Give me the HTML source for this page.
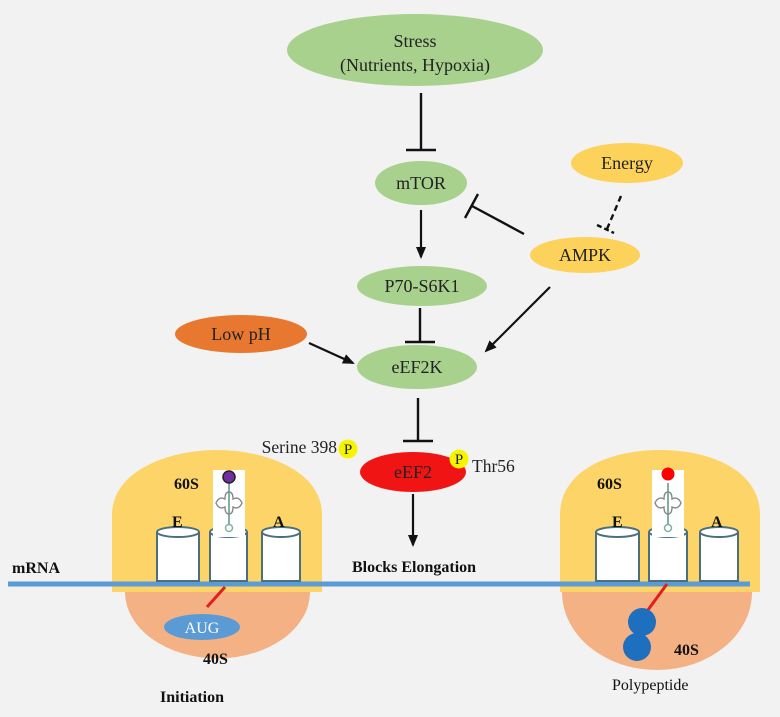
<!DOCTYPE html>
<html><head><meta charset="utf-8"><style>
html,body{margin:0;padding:0;background:#f2f2f2;}
svg{display:block;font-family:"Liberation Serif",serif;}
</style></head><body>
<svg width="780" height="717" viewBox="0 0 780 717" xmlns="http://www.w3.org/2000/svg">
<defs>
<marker id="ah" markerWidth="14" markerHeight="14" refX="10" refY="6" orient="auto" markerUnits="userSpaceOnUse"><path d="M0,1 L12,6 L0,11 Z" fill="#111"/></marker>
</defs>
<rect width="780" height="717" fill="#f2f2f2"/>
<!-- Stress -->
<ellipse cx="415" cy="50" rx="128" ry="36" fill="#a9d18e"/>
<text x="415" y="47" font-size="18" text-anchor="middle" fill="#222">Stress</text>
<text x="415" y="71" font-size="18" text-anchor="middle" fill="#222">(Nutrients, Hypoxia)</text>
<line x1="421" y1="93" x2="421" y2="150" stroke="#111" stroke-width="2.4"/>
<line x1="406" y1="150" x2="436" y2="150" stroke="#111" stroke-width="2.4"/>
<!-- mTOR -->
<ellipse cx="421" cy="183" rx="46" ry="22" fill="#a9d18e"/>
<text x="421" y="189" font-size="18" text-anchor="middle" fill="#222">mTOR</text>
<line x1="421" y1="210" x2="421" y2="257" stroke="#111" stroke-width="2.2" marker-end="url(#ah)"/>
<!-- P70 -->
<ellipse cx="422" cy="286" rx="65" ry="20" fill="#a9d18e"/>
<text x="422" y="292" font-size="18" text-anchor="middle" fill="#222">P70-S6K1</text>
<line x1="420" y1="308" x2="420" y2="342" stroke="#111" stroke-width="2.4"/>
<line x1="405" y1="342" x2="435" y2="342" stroke="#111" stroke-width="2.4"/>
<!-- eEF2K -->
<ellipse cx="417" cy="367" rx="60" ry="22" fill="#a9d18e"/>
<text x="417" y="373" font-size="18" text-anchor="middle" fill="#222">eEF2K</text>
<!-- Low pH -->
<ellipse cx="241" cy="334" rx="66" ry="19" fill="#e8782f"/>
<text x="241" y="340" font-size="18" text-anchor="middle" fill="#222">Low pH</text>
<line x1="309" y1="343" x2="353" y2="363" stroke="#111" stroke-width="2.2" marker-end="url(#ah)"/>
<!-- Energy -->
<ellipse cx="627" cy="163" rx="56" ry="20" fill="#fcd25a"/>
<text x="627" y="169" font-size="18" text-anchor="middle" fill="#222">Energy</text>
<line x1="621" y1="196" x2="607" y2="229" stroke="#111" stroke-width="2.4" stroke-dasharray="6,4"/>
<line x1="597" y1="225" x2="614" y2="233" stroke="#111" stroke-width="2.4" stroke-dasharray="5,3"/>
<!-- AMPK -->
<ellipse cx="585" cy="255" rx="55" ry="18" fill="#fcd25a"/>
<text x="585" y="261" font-size="18" text-anchor="middle" fill="#222">AMPK</text>
<line x1="524" y1="234" x2="472" y2="206" stroke="#111" stroke-width="2.4"/>
<line x1="465" y1="218" x2="478" y2="194" stroke="#111" stroke-width="2.4"/>
<line x1="550" y1="287" x2="486" y2="351" stroke="#111" stroke-width="2.2" marker-end="url(#ah)"/>
<!-- eEF2K -> eEF2 inhibit -->
<line x1="418" y1="398" x2="418" y2="441" stroke="#111" stroke-width="2.4"/>
<line x1="403" y1="441" x2="433" y2="441" stroke="#111" stroke-width="2.4"/>
<!-- eEF2 -->
<ellipse cx="413" cy="472" rx="53" ry="20" fill="#f01414"/>
<text x="413" y="478" font-size="18" text-anchor="middle" fill="#222">eEF2</text>
<circle cx="348" cy="449" r="9.5" fill="#f5f500"/>
<text x="348" y="454" font-size="15" text-anchor="middle" fill="#222">P</text>
<circle cx="459" cy="459" r="9.5" fill="#f5f500"/>
<text x="459" y="464" font-size="15" text-anchor="middle" fill="#222">P</text>
<text x="337" y="453" font-size="17.5" text-anchor="end" fill="#222">Serine 398</text>
<text x="472" y="472" font-size="17.5" fill="#222">Thr56</text>
<line x1="413" y1="494" x2="413" y2="545" stroke="#111" stroke-width="2.2" marker-end="url(#ah)"/>
<text x="352" y="572" font-size="16" font-weight="bold" fill="#111">Blocks Elongation</text>
<!-- Left ribosome -->
<path d="M112,592 V515 C112,470 170,450 217,450 C264,450 322,470 322,515 V592 Z" fill="#fcd467"/>
<path d="M125,592 A92,66 0 0 0 310,592 Z" fill="#f4b183"/>
<!-- Right ribosome -->
<path d="M560,592 V515 C560,470 610,450 660,450 C710,450 760,470 760,515 V592 Z" fill="#fcd467"/>
<path d="M562,592 A95,78 0 0 0 752,592 Z" fill="#f4b183"/>
<!-- mRNA -->
<line x1="8" y1="584" x2="750" y2="584" stroke="#5b9bd5" stroke-width="5"/>
<text x="12" y="573" font-size="16" font-weight="bold" fill="#111">mRNA</text>
<!-- cylinders -->
<g stroke="#4a6f7e" stroke-width="2" fill="#fff">
<path d="M157,532 V581 H199 V532"/><ellipse cx="178" cy="532" rx="21" ry="5"/>
<path d="M210,532 V581 H247 V532"/><ellipse cx="228.5" cy="532" rx="18.5" ry="5"/>
<path d="M262,532 V581 H300 V532"/><ellipse cx="281" cy="532" rx="19" ry="5"/>
<path d="M596,532 V581 H639 V532"/><ellipse cx="617.5" cy="532" rx="21.5" ry="5"/>
<path d="M649,532 V581 H687 V532"/><ellipse cx="668" cy="532" rx="19" ry="5"/>
<path d="M700,532 V581 H738 V532"/><ellipse cx="719" cy="532" rx="19" ry="5"/>
</g>
<!-- tRNA left -->
<rect x="213" y="470" width="32" height="67" fill="#fff"/>
<line x1="229" y1="483" x2="229" y2="524" stroke="#7fb3a0" stroke-width="2"/>
<path d="M216,503 q3,-7 9,-4 q0,-7 4,-7 q4,0 4,7 q6,-3 9,4 q-3,7 -9,4 q0,7 -4,7 q-4,0 -4,-7 q-6,3 -9,-4z" fill="none" stroke="#888" stroke-width="1.4"/>
<circle cx="229" cy="528" r="3.5" fill="none" stroke="#7fb3a0" stroke-width="1.5"/>
<circle cx="229" cy="477" r="6" fill="#7030a0" stroke="#222" stroke-width="1.5"/>
<!-- tRNA right -->
<rect x="652" y="470" width="32" height="67" fill="#fff"/>
<line x1="668" y1="483" x2="668" y2="524" stroke="#7fb3a0" stroke-width="2"/>
<path d="M655,503 q3,-7 9,-4 q0,-7 4,-7 q4,0 4,7 q6,-3 9,4 q-3,7 -9,4 q0,7 -4,7 q-4,0 -4,-7 q-6,3 -9,-4z" fill="none" stroke="#888" stroke-width="1.4"/>
<circle cx="668" cy="528" r="3.5" fill="none" stroke="#7fb3a0" stroke-width="1.5"/>
<circle cx="668" cy="474" r="6.5" fill="#ff0000"/>
<!-- labels -->
<g font-size="16" font-weight="bold" fill="#111">
<text x="174" y="489">60S</text>
<text x="172" y="527">E</text>
<text x="273" y="527">A</text>
<text x="597" y="489">60S</text>
<text x="612" y="527">E</text>
<text x="711" y="527">A</text>
<text x="203" y="664">40S</text>
<text x="674" y="655">40S</text>
<text x="160" y="702">Initiation</text>
</g>
<text x="612" y="690" font-size="16" fill="#111">Polypeptide</text>
<!-- left bottom -->
<line x1="225" y1="587" x2="207" y2="607" stroke="#e02020" stroke-width="3"/>
<ellipse cx="202" cy="627" rx="38" ry="13" fill="#5b9bd5"/>
<text x="202" y="633" font-size="16" text-anchor="middle" fill="#fff">AUG</text>
<!-- right bottom -->
<line x1="667" y1="584" x2="645" y2="614" stroke="#e02020" stroke-width="3"/>
<circle cx="642" cy="622" r="14" fill="#1f6fbf"/>
<circle cx="637" cy="647" r="14" fill="#1f6fbf"/>
</svg>
</body></html>
